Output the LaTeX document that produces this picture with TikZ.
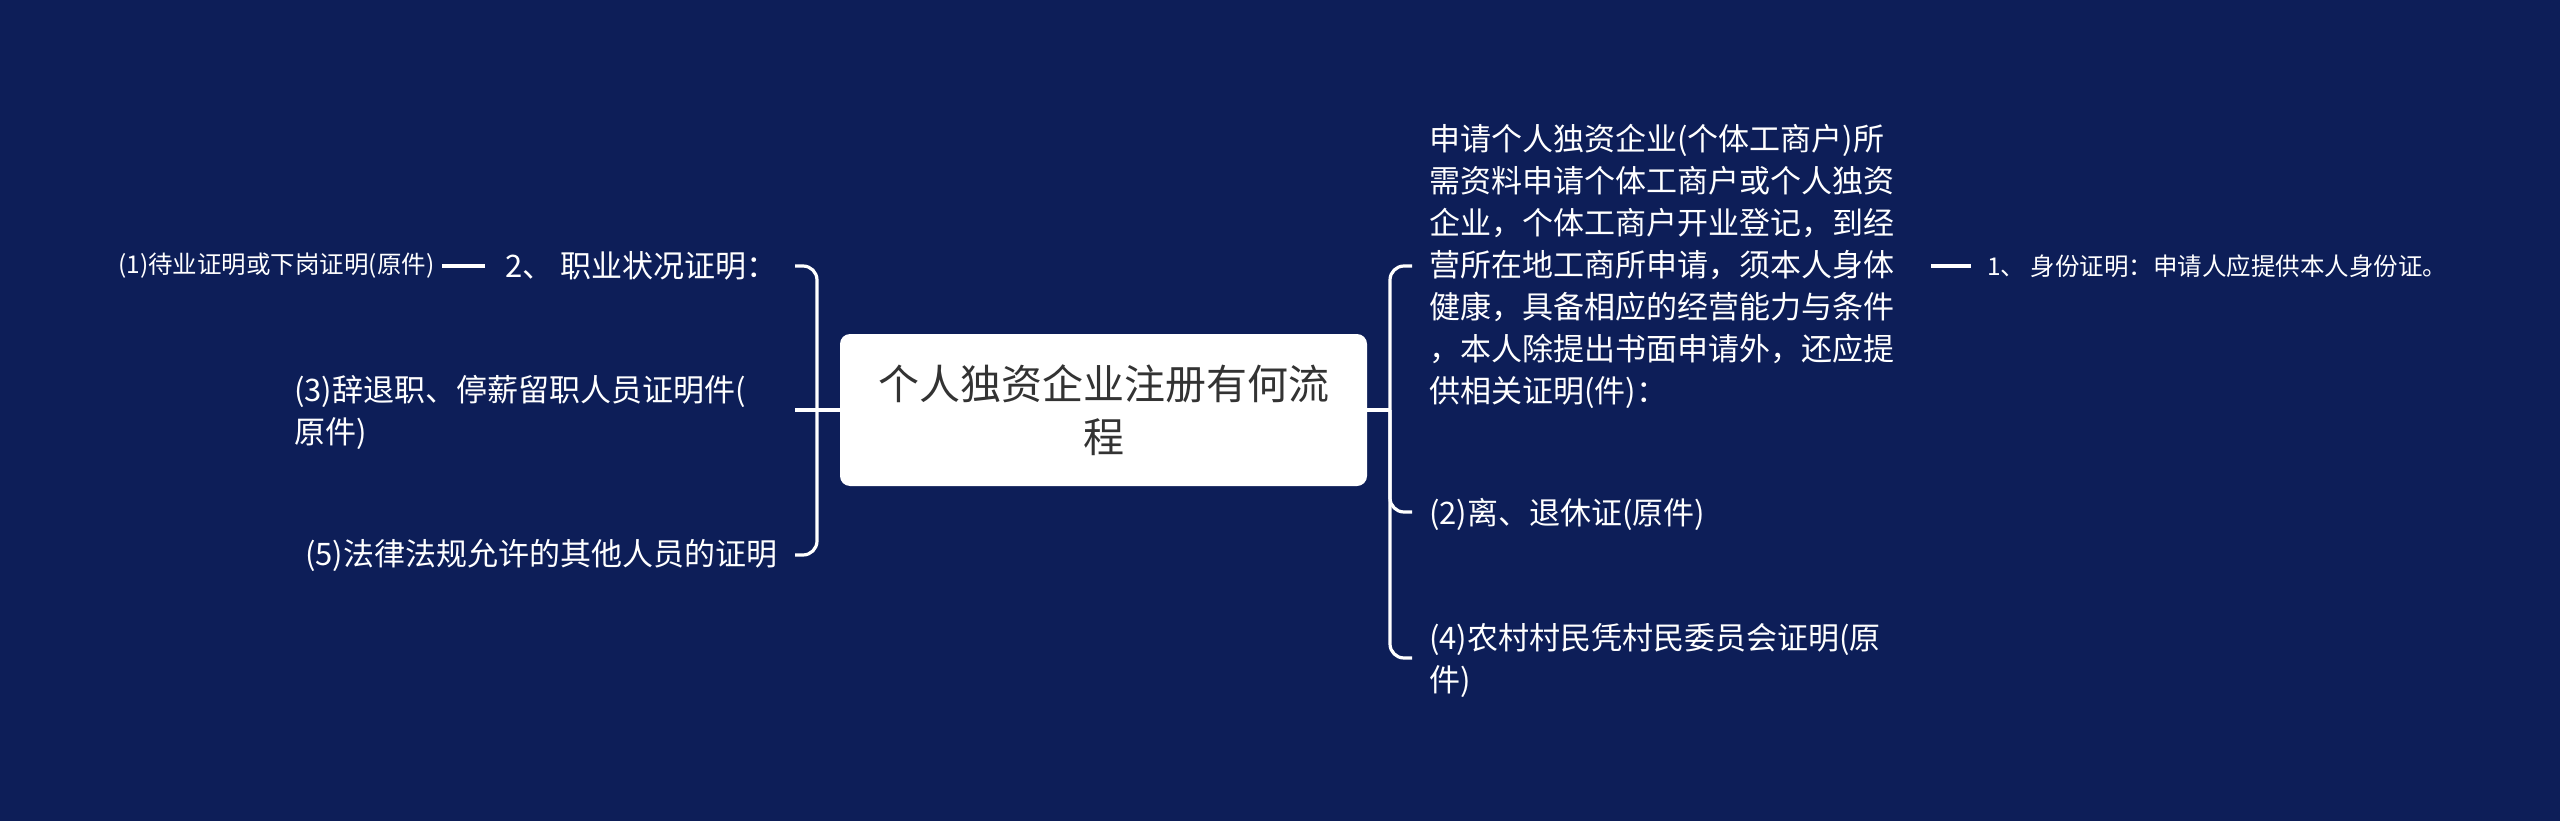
\documentclass[tikz,border=0pt]{standalone}
\usepackage{fontspec}
\setmainfont{Noto Sans CJK SC}
\definecolor{bgblue}{RGB}{13,30,88}
\definecolor{rootgray}{RGB}{51,51,51}
\tikzset{
  link/.style={draw=white, line width=3.2pt, rounded corners=14pt},
  leaf/.style={text=white, font=\fontsize{31}{42}\selectfont, align=left, inner sep=0pt, anchor=west},
  smallleaf/.style={text=white, font=\fontsize{24.5}{32}\selectfont, inner sep=0pt, anchor=west},
  rootbox/.style={fill=white, rounded corners=10pt, minimum width=527pt, minimum height=152pt,
    align=center, text=rootgray, font=\fontsize{41}{53}\selectfont}
}
\begin{document}
\begin{tikzpicture}[x=1pt,y=-1pt]
\fill[bgblue] (0,0) rectangle (2560,821);
\node[rootbox] (root) at (1103.5,410) {个人独资企业注册有何流\\程};

% left side
\node[leaf] (job) at (505,266) {2、 职业状况证明：};
\node[smallleaf] (wait) at (118,266) {(1)待业证明或下岗证明(原件)};
\node[leaf] (quit) at (294,412) {(3)辞退职、停薪留职人员证明件(\\原件)};
\node[leaf] (other) at (305,555) {(5)法律法规允许的其他人员的证明};

% right side
\node[leaf] (need) at (1429,266) {申请个人独资企业(个体工商户)所\\需资料申请个体工商户或个人独资\\企业，个体工商户开业登记，到经\\营所在地工商所申请，须本人身体\\健康，具备相应的经营能力与条件\\，本人除提出书面申请外，还应提\\供相关证明(件)：};
\node[smallleaf] (id) at (1987,266) {1、 身份证明：申请人应提供本人身份证。};
\node[leaf] (retire) at (1429,514) {(2)离、退休证(原件)};
\node[leaf] (rural) at (1429,660) {(4)农村村民凭村民委员会证明(原\\件)};

\coordinate (jl) at (817,410);
\coordinate (jr) at (1390,410);
\coordinate (jobend) at (795,266);
\coordinate (quitend) at (795,410);
\coordinate (otherend) at (795,555);
\coordinate (needend) at (1412,266);
\coordinate (retireend) at (1412,512);
\coordinate (ruralend) at (1412,658);
\coordinate (waitA) at (485,266);
\coordinate (waitB) at (442,266);
\coordinate (idA) at (1931,266);
\coordinate (idB) at (1971,266);

\draw[link] (root.west) -- (quitend);
\draw[link] (jl) |- (jobend);
\draw[link] (jl) |- (otherend);
\draw[link] (root.east) -- (jr);
\draw[link] (jr) |- (needend);
\draw[link] (jr) |- (retireend);
\draw[link] (jr) |- (ruralend);
\draw[link] (waitA) -- (waitB);
\draw[link] (idA) -- (idB);
\end{tikzpicture}
\end{document}
